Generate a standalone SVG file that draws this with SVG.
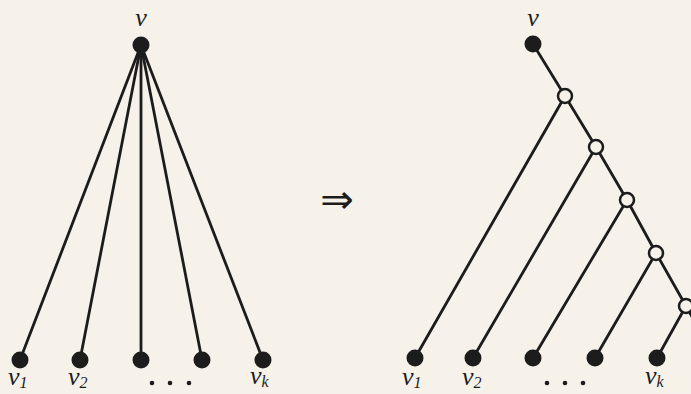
<svg xmlns="http://www.w3.org/2000/svg" width="691" height="394" viewBox="0 0 691 394">
<style>
.bg{fill:#f6f2ea}
.e{stroke:#1c1c1c;stroke-width:2.8;fill:none;stroke-linecap:round}
.f{fill:#1c1c1c}
.o{fill:#f6f2ea;stroke:#1c1c1c;stroke-width:2.5}
.lab{font-family:"Liberation Serif","DejaVu Serif",serif;font-style:italic;font-size:26px;fill:#1c1c1c}
.sub{font-family:"Liberation Serif","DejaVu Serif",serif;font-size:16px;fill:#1c1c1c}
.subi{font-family:"Liberation Serif","DejaVu Serif",serif;font-style:italic;font-size:16px;fill:#1c1c1c}
.dot{fill:#1c1c1c}
</style>
<rect class="bg" width="691" height="394"/>
<g id="connectors">
<line class="e" x1="141" y1="45" x2="20" y2="360"/>
<line class="e" x1="141" y1="45" x2="80" y2="360"/>
<line class="e" x1="141" y1="45" x2="141" y2="360"/>
<line class="e" x1="141" y1="45" x2="202" y2="360"/>
<line class="e" x1="141" y1="45" x2="263" y2="360"/>
<line class="e" x1="533" y1="44" x2="565" y2="96"/>
<line class="e" x1="565" y1="96" x2="415" y2="358"/>
<line class="e" x1="565" y1="96" x2="596" y2="147"/>
<line class="e" x1="596" y1="147" x2="473" y2="358"/>
<line class="e" x1="596" y1="147" x2="627" y2="200"/>
<line class="e" x1="627" y1="200" x2="533" y2="358"/>
<line class="e" x1="627" y1="200" x2="656" y2="253"/>
<line class="e" x1="656" y1="253" x2="595" y2="358"/>
<line class="e" x1="656" y1="253" x2="686" y2="306"/>
<line class="e" x1="686" y1="306" x2="657" y2="358"/>
<line class="e" x1="686" y1="306" x2="700" y2="331"/>
</g>
<g id="L_v"><circle class="f" cx="141" cy="45" r="8.5"/><text class="lab" x="141" y="26" text-anchor="middle">v</text></g>
<g id="L_v1"><circle class="f" cx="20" cy="360" r="8.5"/><text class="lab" x="8" y="385">v<tspan class="sub" dy="3">1</tspan></text></g>
<g id="L_v2"><circle class="f" cx="80" cy="360" r="8.5"/><text class="lab" x="68" y="385">v<tspan class="sub" dy="3">2</tspan></text></g>
<g id="L_v3"><circle class="f" cx="141" cy="360" r="8.5"/></g>
<g id="L_v4"><circle class="f" cx="202" cy="360" r="8.5"/></g>
<g id="L_vk"><circle class="f" cx="263" cy="360" r="8.5"/><text class="lab" x="250" y="384">v<tspan class="subi" dy="3">k</tspan></text></g>
<g id="L_dots"><circle class="dot" cx="152" cy="383" r="2.3"/><circle class="dot" cx="170" cy="383" r="2.3"/><circle class="dot" cx="189" cy="383" r="2.3"/></g>
<g id="arrow"><text x="337" y="213" text-anchor="middle" style="font-family:'DejaVu Sans',sans-serif;font-size:40px;fill:#1c1c1c">⇒</text></g>
<g id="R_v"><circle class="f" cx="533" cy="44" r="8.5"/><text class="lab" x="533" y="26" text-anchor="middle">v</text></g>
<g id="R_c1"><circle class="o" cx="565" cy="96" r="7"/></g>
<g id="R_c2"><circle class="o" cx="596" cy="147" r="7"/></g>
<g id="R_c3"><circle class="o" cx="627" cy="200" r="7"/></g>
<g id="R_c4"><circle class="o" cx="656" cy="253" r="7"/></g>
<g id="R_c5"><circle class="o" cx="686" cy="306" r="7"/></g>
<g id="R_v1"><circle class="f" cx="415" cy="358" r="8.5"/><text class="lab" x="402" y="385">v<tspan class="sub" dy="3">1</tspan></text></g>
<g id="R_v2"><circle class="f" cx="473" cy="358" r="8.5"/><text class="lab" x="462" y="385">v<tspan class="sub" dy="3">2</tspan></text></g>
<g id="R_v3"><circle class="f" cx="533" cy="358" r="8.5"/></g>
<g id="R_v4"><circle class="f" cx="595" cy="358" r="8.5"/></g>
<g id="R_vk"><circle class="f" cx="657" cy="358" r="8.5"/><text class="lab" x="645" y="384">v<tspan class="subi" dy="3">k</tspan></text></g>
<g id="R_dots"><circle class="dot" cx="547" cy="383" r="2.3"/><circle class="dot" cx="565" cy="383" r="2.3"/><circle class="dot" cx="583" cy="383" r="2.3"/></g>
</svg>
